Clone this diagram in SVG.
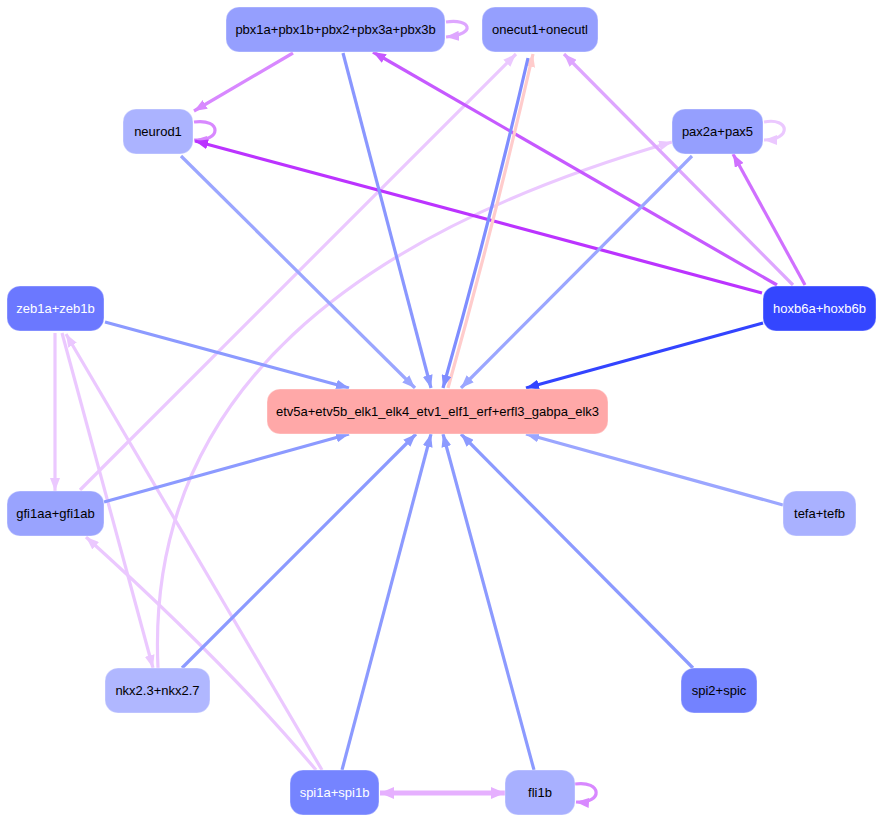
<svg xmlns="http://www.w3.org/2000/svg" width="882" height="823" viewBox="0 0 882 823">
<style>
.n rect{stroke:#ffffff;stroke-opacity:0.35;stroke-width:1}
.n text{font-family:"Liberation Sans",Arial,sans-serif;font-size:13px;text-anchor:middle;fill:#000}
.n text.w{fill:#fff}
#edges path{fill:none;stroke-width:3.2}
</style>
<defs>
<marker id="a1" markerUnits="userSpaceOnUse" viewBox="0 0 13 10" markerWidth="13" markerHeight="10" refX="13" refY="5" orient="auto"><path d="M0,0L13,5L0,10z" fill="#8c9aff"/></marker>
<marker id="a2" markerUnits="userSpaceOnUse" viewBox="0 0 13 10" markerWidth="13" markerHeight="10" refX="13" refY="5" orient="auto"><path d="M0,0L13,5L0,10z" fill="#9ba6ff"/></marker>
<marker id="a3" markerUnits="userSpaceOnUse" viewBox="0 0 13 10" markerWidth="13" markerHeight="10" refX="13" refY="5" orient="auto"><path d="M0,0L13,5L0,10z" fill="#7f8dff"/></marker>
<marker id="a4" markerUnits="userSpaceOnUse" viewBox="0 0 13 10" markerWidth="13" markerHeight="10" refX="13" refY="5" orient="auto"><path d="M0,0L13,5L0,10z" fill="#3344ff"/></marker>
<marker id="a5" markerUnits="userSpaceOnUse" viewBox="0 0 13 10" markerWidth="13" markerHeight="10" refX="13" refY="5" orient="auto"><path d="M0,0L13,5L0,10z" fill="#bb33ff"/></marker>
<marker id="a6" markerUnits="userSpaceOnUse" viewBox="0 0 13 10" markerWidth="13" markerHeight="10" refX="13" refY="5" orient="auto"><path d="M0,0L13,5L0,10z" fill="#c659ff"/></marker>
<marker id="a7" markerUnits="userSpaceOnUse" viewBox="0 0 13 10" markerWidth="13" markerHeight="10" refX="13" refY="5" orient="auto"><path d="M0,0L13,5L0,10z" fill="#d070ff"/></marker>
<marker id="a8" markerUnits="userSpaceOnUse" viewBox="0 0 13 10" markerWidth="13" markerHeight="10" refX="13" refY="5" orient="auto"><path d="M0,0L13,5L0,10z" fill="#d888ff"/></marker>
<marker id="a9" markerUnits="userSpaceOnUse" viewBox="0 0 13 10" markerWidth="13" markerHeight="10" refX="13" refY="5" orient="auto"><path d="M0,0L13,5L0,10z" fill="#dea6ff"/></marker>
<marker id="a10" markerUnits="userSpaceOnUse" viewBox="0 0 13 10" markerWidth="13" markerHeight="10" refX="13" refY="5" orient="auto"><path d="M0,0L13,5L0,10z" fill="#ebc8ff"/></marker>
<marker id="a11" markerUnits="userSpaceOnUse" viewBox="0 0 14 12" markerWidth="14" markerHeight="12" refX="14" refY="6" orient="auto-start-reverse"><path d="M0,0L14,6L0,12z" fill="#e6b0ff"/></marker>
<marker id="a12" markerUnits="userSpaceOnUse" viewBox="0 0 13 10" markerWidth="13" markerHeight="10" refX="13" refY="5" orient="auto"><path d="M0,0L13,5L0,10z" fill="#ffcccc"/></marker>
</defs>
<rect width="882" height="823" fill="#fff"/>
<g id="edges">
<path d="M80,490L516,54" stroke="#ebc8ff" marker-end="url(#a10)"/>
<path d="M158,668C145,390 360,232 672,142" stroke="#ebc8ff" marker-end="url(#a10)"/>
<path d="M55,333L55,491" stroke="#ebc8ff" marker-end="url(#a10)"/>
<path d="M62,333L153,668" stroke="#ebc8ff" marker-end="url(#a10)"/>
<path d="M322,770L66,334" stroke="#ebc8ff" marker-end="url(#a10)"/>
<path d="M316,770Q228,665 86,537" stroke="#ebc8ff" marker-end="url(#a10)"/>
<path d="M764,122C790,117 792,140 764,140" stroke="#ebc8ff" marker-end="url(#a10)"/>
<path d="M793,285L564,54" stroke="#dea6ff" marker-end="url(#a9)"/>
<path d="M446,22C470,18 478,34 446,37" stroke="#dea6ff" marker-end="url(#a9)"/>
<path d="M293,53L194,111" stroke="#d888ff" marker-end="url(#a8)"/>
<path d="M194,122C222,118 222,142 194,140" stroke="#d888ff" marker-end="url(#a8)"/>
<path d="M575,784C602,780 604,804 576,802" stroke="#d888ff" marker-end="url(#a8)"/>
<path d="M777,285L373,52" stroke="#c659ff" marker-end="url(#a6)"/>
<path d="M762,293L195,141" stroke="#bb33ff" marker-end="url(#a5)"/>
<path d="M805,285L733,154" stroke="#d070ff" marker-end="url(#a7)"/>
<path d="M448,388Q495,221 533,54" stroke="#ffcccc" marker-end="url(#a12)"/>
<path d="M528,58Q490,222 443,388" stroke="#7f8dff" marker-end="url(#a3)"/>
<path d="M343,53L431,388" stroke="#8a97ff" marker-end="url(#a1)"/>
<path d="M181,156L415,388" stroke="#9ba6ff" marker-end="url(#a2)"/>
<path d="M692,156L461,388" stroke="#9ba6ff" marker-end="url(#a2)"/>
<path d="M105,322L349,388" stroke="#8c9aff" marker-end="url(#a1)"/>
<path d="M763,323L526,388" stroke="#3344ff" marker-end="url(#a4)"/>
<path d="M104,502L349,434" stroke="#8c9aff" marker-end="url(#a1)"/>
<path d="M182,668L416,434" stroke="#8c9aff" marker-end="url(#a1)"/>
<path d="M342,770L431,434" stroke="#8c9aff" marker-end="url(#a1)"/>
<path d="M534,770L443,434" stroke="#8c9aff" marker-end="url(#a1)"/>
<path d="M693,668L461,434" stroke="#8c9aff" marker-end="url(#a1)"/>
<path d="M783,505L526,434" stroke="#9ba6ff" marker-end="url(#a2)"/>
<path d="M380,793L505,793" stroke="#e6b0ff" style="stroke-width:5" marker-start="url(#a11)" marker-end="url(#a11)"/>
</g>
<g id="node-pbx" class="n"><rect x="226" y="7" width="219" height="45" rx="13" fill="#959ffe"/><text x="335.5" y="34">pbx1a+pbx1b+pbx2+pbx3a+pbx3b</text></g>
<g id="node-onecut" class="n"><rect x="482" y="7" width="116" height="45" rx="13" fill="#959ffe"/><text x="540" y="34">onecut1+onecutl</text></g>
<g id="node-neurod1" class="n"><rect x="123" y="109" width="70" height="45" rx="13" fill="#abb3ff"/><text x="158" y="136">neurod1</text></g>
<g id="node-pax2a" class="n"><rect x="672" y="109" width="91" height="45" rx="13" fill="#959ffe"/><text x="717.5" y="136">pax2a+pax5</text></g>
<g id="node-zeb1a" class="n"><rect x="7" y="286" width="97" height="45" rx="13" fill="#6b78ff"/><text class="w" x="55.5" y="313">zeb1a+zeb1b</text></g>
<g id="node-hoxb6" class="n"><rect x="763" y="286" width="113" height="45" rx="13" fill="#3446ff"/><text class="w" x="819.5" y="313">hoxb6a+hoxb6b</text></g>
<g id="node-etv5" class="n"><rect x="267" y="389" width="341" height="45" rx="13" fill="#ffa8a8"/><text x="437.5" y="416">etv5a+etv5b_elk1_elk4_etv1_elf1_erf+erfl3_gabpa_elk3</text></g>
<g id="node-gfi1aa" class="n"><rect x="7" y="491" width="97" height="45" rx="13" fill="#99a3fe"/><text x="55.5" y="518">gfi1aa+gfi1ab</text></g>
<g id="node-tefa" class="n"><rect x="783" y="491" width="73" height="45" rx="13" fill="#a9b1ff"/><text x="819.5" y="518">tefa+tefb</text></g>
<g id="node-nkx" class="n"><rect x="105" y="668" width="105" height="45" rx="13" fill="#b0b7ff"/><text x="157.5" y="695">nkx2.3+nkx2.7</text></g>
<g id="node-spi2" class="n"><rect x="681" y="668" width="76" height="45" rx="13" fill="#7382ff"/><text x="719" y="695">spi2+spic</text></g>
<g id="node-spi1a" class="n"><rect x="290" y="770" width="89" height="45" rx="13" fill="#7584ff"/><text class="w" x="334.5" y="797">spi1a+spi1b</text></g>
<g id="node-fli1b" class="n"><rect x="505" y="770" width="70" height="45" rx="13" fill="#a8b0ff"/><text x="540" y="797">fli1b</text></g>
</svg>
